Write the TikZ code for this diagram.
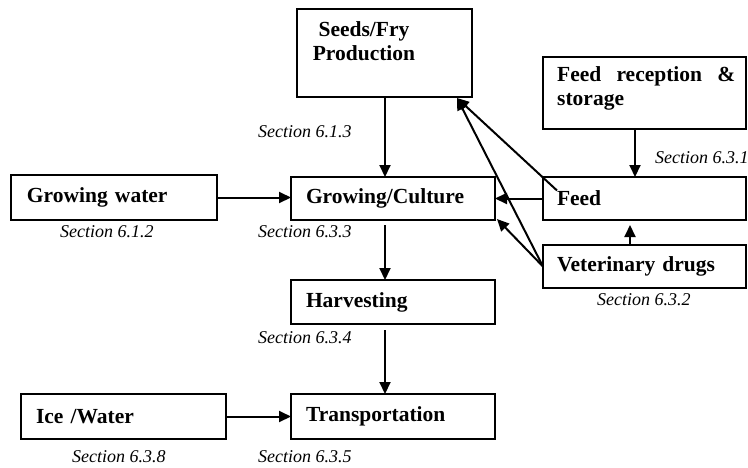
\documentclass[tikz,border=0pt]{standalone}
\usepackage{fontspec}
\setmainfont{Liberation Serif}
\usetikzlibrary{arrows.meta,calc}
\begin{document}
\begin{tikzpicture}[x=1pt,y=-1pt,
  boxline/.style={draw,line width=1.9pt,rectangle,inner ysep=0pt,outer sep=0pt},
  procbox/.style={boxline,align=left,inner xsep=15pt,
    font=\bfseries\fontsize{21.5}{24}\selectfont},
  emptybox/.style={boxline,inner sep=0pt},
  btext/.style={font=\bfseries\fontsize{21.5}{24}\selectfont,inner sep=0pt},
  sect/.style={font=\itshape\fontsize{18}{20}\selectfont,inner sep=0pt,anchor=west},
  flow/.style={line width=2pt,-{Triangle[length=12pt,width=11pt]}}]
\useasboundingbox (0,0) rectangle (748,467);

% process boxes
\node[emptybox,minimum width=175,minimum height=88] (seeds) at (384.5,53) {};
\node[btext,align=center] (seedsText) at (364,41.5) {Seeds/Fry\\Production};

\node[emptybox,minimum width=203,minimum height=72] (fr) at (644.5,93) {};
\node[btext,anchor=west,text width=178,align=justify] (frText) at (557,88) {Feed reception \& storage};

\node[procbox,minimum width=206,text width=174,minimum height=45] (gw) at (114,197.5) {Growing water};
\node[procbox,minimum width=204,text width=174,minimum height=43] (gc) at (393,198.5) {Growing/Culture};
\node[procbox,minimum width=203,text width=175,inner xsep=14pt,minimum height=43] (feed) at (644.5,198.5) {Feed};
\node[procbox,minimum width=203,text width=175,inner xsep=14pt,minimum height=43] (vet) at (644.5,266.5) {Veterinary drugs};
\node[procbox,minimum width=204,text width=174,minimum height=44] (harv) at (393,302) {Harvesting};
\node[procbox,minimum width=205,text width=175,minimum height=45] (ice) at (123.5,416.5) {Ice /Water};
\node[procbox,minimum width=204,text width=174,minimum height=45] (trans) at (393,416.5) {Transportation};

% section references
\node[sect] (s613) at (258,132) {Section 6.1.3};
\node[sect] (s631) at (655,158) {Section 6.3.1};
\node[sect] (s612) at (60,232) {Section 6.1.2};
\node[sect] (s633) at (258,232) {Section 6.3.3};
\node[sect] (s632) at (597,300) {Section 6.3.2};
\node[sect] (s634) at (258,338) {Section 6.3.4};
\node[sect] (s638) at (72,457) {Section 6.3.8};
\node[sect] (s635) at (258,457) {Section 6.3.5};

% helper points
\coordinate (seedsTip) at ($(seeds.south east)+(-15,1)$);
\coordinate (feedIn) at ($(feed.west)+(14,-8)$);
\coordinate (gcTip) at ($(gc.south east)+(2,-1)$);
\coordinate (col) at (385,0);
\coordinate (frOut) at ($(fr.south)+(-9.5,0)$);
\coordinate (vetOut) at ($(vet.north)+(-14.5,0)$);
\coordinate (vetTip) at ($(vet.north)+(-14.5,-20)$);

% connectors
\draw[flow] (seeds.south -| col) -- (gc.north -| col);
\draw[flow] (gc.south -| col) ++(0,5) -- (harv.north -| col);
\draw[flow] (harv.south -| col) ++(0,6) -- (trans.north -| col);
\draw[flow] (gw.east) -- (gw.east -| gc.west);
\draw[flow] (ice.east) -- (ice.east -| trans.west);
\draw[flow] (feed.west) -- (feed.west -| gc.east);
\draw[flow] (frOut) -- (frOut |- feed.north);
\draw[flow] (vetOut) -- (vetTip);
\draw[flow] (feedIn) -- (seedsTip);
\draw[flow] (vet.west) -- (seedsTip);
\draw[flow] (vet.west) -- (gcTip);
\end{tikzpicture}
\end{document}
